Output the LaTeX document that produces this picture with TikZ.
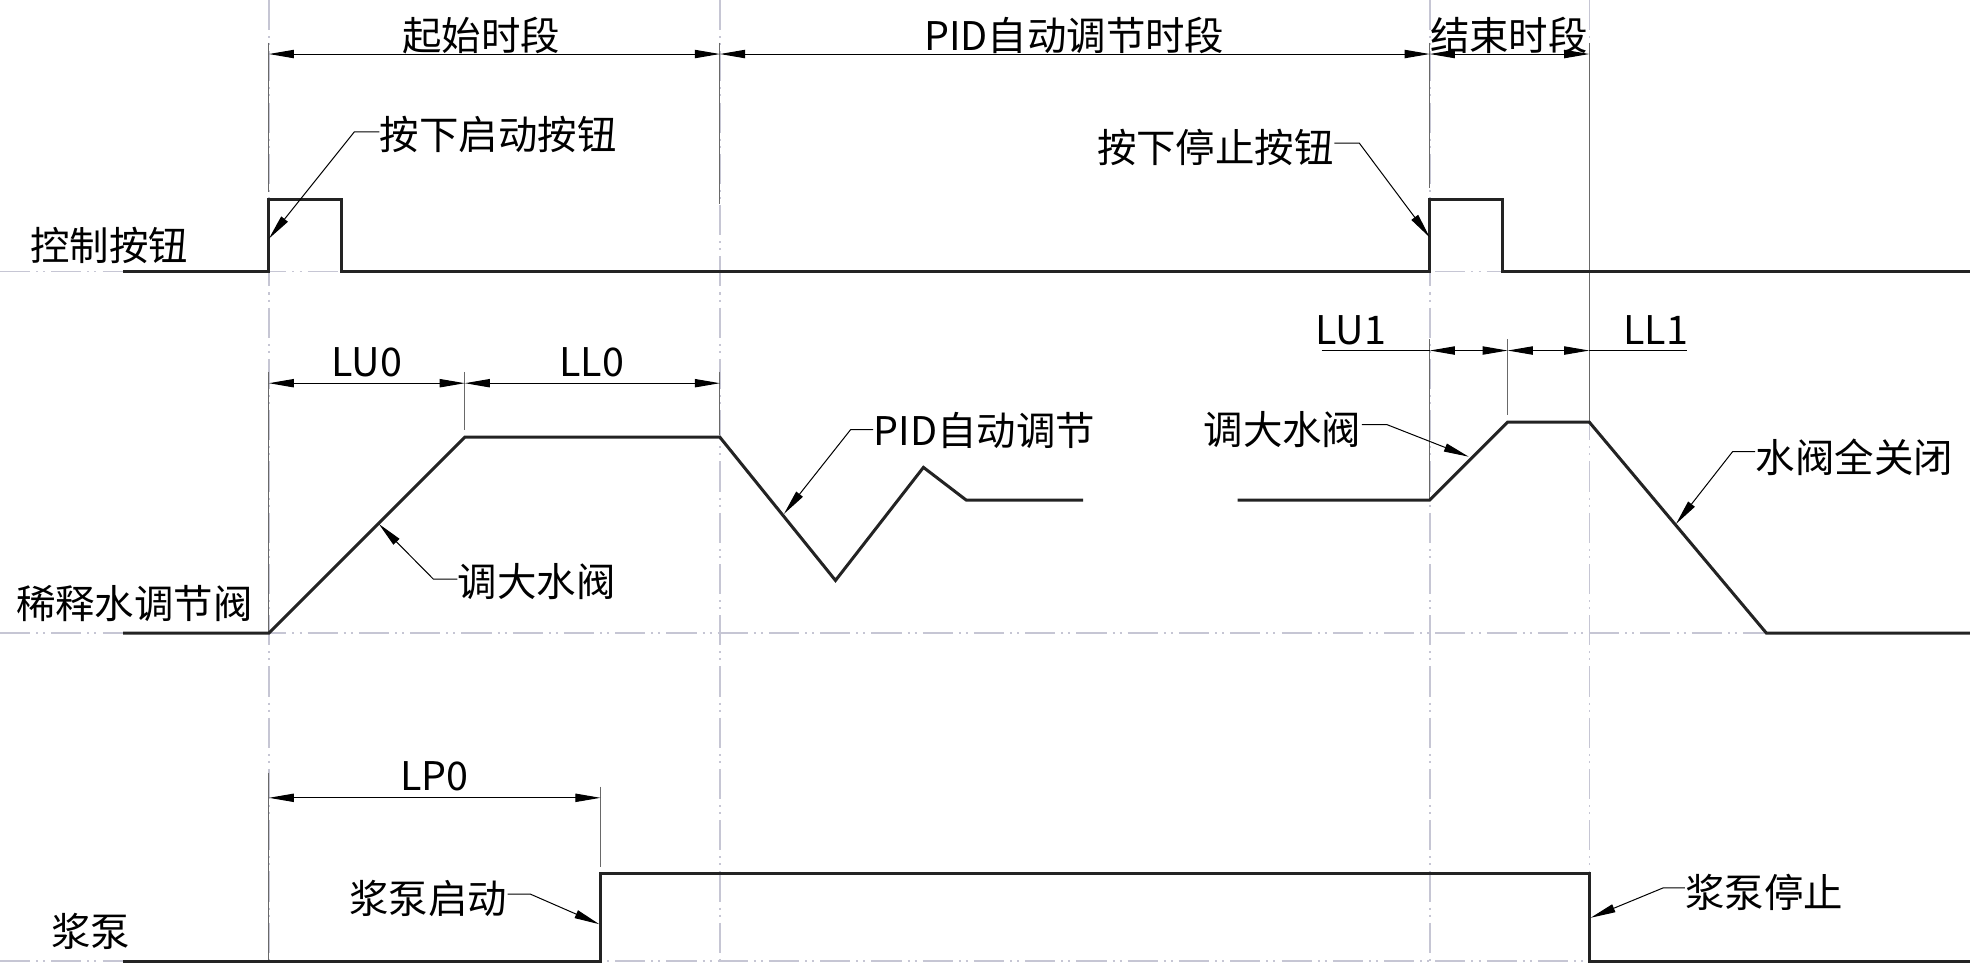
\documentclass[tikz,border=0pt]{standalone}
\usepackage{fontspec}
\setmainfont{Noto Sans CJK SC}
\usetikzlibrary{arrows.meta}
\definecolor{cline}{RGB}{198,198,212}
\definecolor{extc}{RGB}{105,105,105}
\definecolor{sig}{RGB}{35,35,35}
\tikzset{
  centerline/.style={cline, line width=0.6pt, dash pattern=on 12pt off 2.4pt on 0.8pt off 2pt on 0.8pt off 2.4pt},
  signal/.style={sig, line width=1.2pt, line join=miter},
  extline/.style={extc, line width=0.45pt},
  dimline/.style={black, line width=0.4pt, {Triangle[length=10pt,width=3.3pt]}-{Triangle[length=10pt,width=3.3pt]}},
  plainline/.style={black, line width=0.4pt},
  leader/.style={black, line width=0.4pt, -{Triangle[length=10pt,width=3.3pt]}},
  lbl/.style={font=\fontsize{15.7}{16}\selectfont, inner sep=0pt, text=black},
}
\begin{document}
\begin{tikzpicture}[x=0.5pt,y=-0.5pt]
\useasboundingbox (0,0) rectangle (1568,766);

% centre (dash-dot-dot) lines
\foreach \yy in {216,504,765} \draw[centerline] (0,\yy) -- (1568,\yy);
\foreach \xx in {214,573,1138,1265} \draw[centerline] (\xx,0) -- (\xx,766);

% extension lines
\draw[extline] (214,34) -- (214,153);
\draw[extline] (573,34) -- (573,162);
\draw[extline] (1138,34) -- (1138,150);
\draw[extline] (1265,34) -- (1265,335);
\draw[extline] (214,296) -- (214,504);
\draw[extline] (370,296) -- (370,342);
\draw[extline] (573,296) -- (573,346);
\draw[extline] (1138,270) -- (1138,398);
\draw[extline] (1200,270) -- (1200,330);
\draw[extline] (214,615) -- (214,765);
\draw[extline] (478,626) -- (478,690);

% signals
\draw[signal] (98,216) -- (214,216) -- (214,159) -- (272,159) -- (272,216) -- (1138,216) -- (1138,159) -- (1196,159) -- (1196,216) -- (1568,216);
\draw[signal] (98,504) -- (214,504) -- (370,348) -- (573,348) -- (665,462) -- (735,372) -- (769,398) -- (862,398);
\draw[signal] (985,398) -- (1138,398) -- (1200,336) -- (1265,336) -- (1406,504) -- (1568,504);
\draw[signal] (98,765) -- (478,765) -- (478,695) -- (1265,695) -- (1265,765) -- (1568,765);

% dimension lines
\coordinate (d0) at (214,43); \coordinate (d1) at (573,43);
\coordinate (d2) at (1138,43); \coordinate (d3) at (1265,43);
\draw[dimline] (d0) -- (d1);
\draw[dimline] (d1) -- (d2);
\draw[dimline] (d2) -- (d3);
\coordinate (e0) at (214,305); \coordinate (e1) at (370,305); \coordinate (e2) at (573,305);
\draw[dimline] (e0) -- (e1);
\draw[dimline] (e1) -- (e2);
\coordinate (f0) at (1052,279); \coordinate (f1) at (1138,279); \coordinate (f2) at (1200,279);
\coordinate (f3) at (1265,279); \coordinate (f4) at (1343,279);
\draw[plainline] (f0) -- (f1);
\draw[dimline] (f1) -- (f2);
\draw[dimline] (f2) -- (f3);
\draw[plainline] (f3) -- (f4);
\coordinate (g0) at (214,635); \coordinate (g1) at (478,635);
\draw[dimline] (g0) -- (g1);

% labels
\node[lbl] (tstart) at (383,28) {起始时段};
\node[lbl] (tpid) at (855,28) {PID自动调节时段};
\node[lbl] (tend) at (1201,28) {结束时段};
\node[lbl] (lu0) at (292,288) {LU0};
\node[lbl] (ll0) at (471,288) {LL0};
\node[lbl] (lu1) at (1075,263) {LU1};
\node[lbl] (ll1) at (1318,263) {LL1};
\node[lbl] (lp0) at (346,618) {LP0};
\node[lbl] (row1) at (87,195) {控制按钮};
\node[lbl] (row2) at (107,480) {稀释水调节阀};
\node[lbl] (row3) at (72,741) {浆泵};

\node[lbl, anchor=west] (nstart) at (302,107) {按下启动按钮};
\node[lbl, anchor=east] (nstop) at (1062,117) {按下停止按钮};
\node[lbl, anchor=west] (npid) at (695,343) {PID自动调节};
\node[lbl, anchor=west] (nup1) at (364,463) {调大水阀};
\node[lbl, anchor=east] (nup2) at (1084,342) {调大水阀};
\node[lbl, anchor=west] (nclose) at (1397,364) {水阀全关闭};
\node[lbl, anchor=east] (npon) at (404,715) {浆泵启动};
\node[lbl, anchor=west] (npoff) at (1341,710) {浆泵停止};

% leaders
\coordinate (k1) at (282,105); \coordinate (a1) at (214,190);
\draw[leader] (nstart.west |- k1) -- (k1) -- (a1);
\coordinate (k2) at (1082,114); \coordinate (a2) at (1138,189);
\draw[leader] (nstop.east |- k2) -- (k2) -- (a2);
\coordinate (k3) at (677,342); \coordinate (a3) at (624,409);
\draw[leader] (npid.west |- k3) -- (k3) -- (a3);
\coordinate (k4) at (345,461); \coordinate (a4) at (301.5,417);
\draw[leader] (nup1.west |- k4) -- (k4) -- (a4);
\coordinate (k5) at (1104,338); \coordinate (a5) at (1169,363.5);
\draw[leader] (nup2.east |- k5) -- (k5) -- (a5);
\coordinate (k6) at (1379,359.5); \coordinate (a6) at (1334,417);
\draw[leader] (nclose.west |- k6) -- (k6) -- (a6);
\coordinate (k7) at (422,711.6); \coordinate (a7) at (477,735.6);
\draw[leader] (npon.east |- k7) -- (k7) -- (a7);
\coordinate (k8) at (1324,706.6); \coordinate (a8) at (1266,730.5);
\draw[leader] (npoff.west |- k8) -- (k8) -- (a8);
\end{tikzpicture}
\end{document}
